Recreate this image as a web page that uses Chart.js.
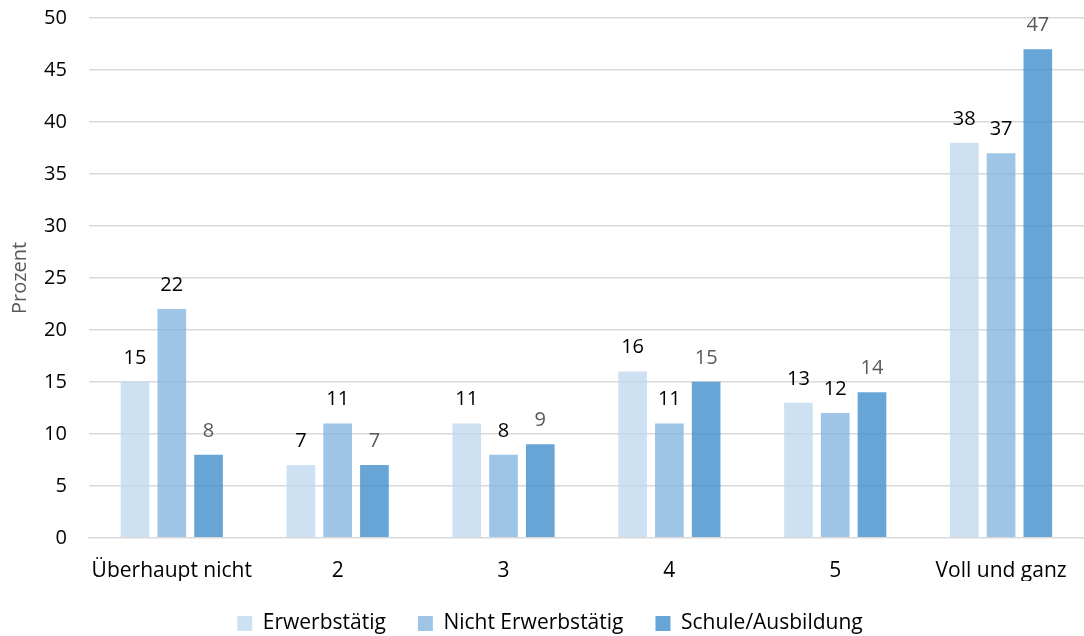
<!DOCTYPE html>
<html lang="de">
<head>
    <meta charset="UTF-8">
    <title>Prozent</title>
    <style>
        html, body { margin: 0; padding: 0; background: #fff; }
        #wrap { width: 1084px; height: 636px; overflow: hidden; }
    </style>
    <script src="https://cdn.jsdelivr.net/npm/chart.js"></script>
</head>
<body>
    <div id="wrap"><canvas id="chart"></canvas></div>
    <script>
        const categories = ['Überhaupt nicht', '2', '3', '4', '5', 'Voll und ganz'];
        const erwerbstaetig = [15, 7, 11, 16, 13, 38];
        const nichtErwerbstaetig = [22, 11, 8, 11, 12, 37];
        const schuleAusbildung = [8, 7, 9, 15, 14, 47];
        const seriesNames = ['Erwerbstätig', 'Nicht Erwerbstätig', 'Schule/Ausbildung'];

        const fontFamily = "'Open Sans', 'Noto Sans', sans-serif";

        // Werte über die Balken schreiben
        const valueLabels = {
            id: 'valueLabels',
            afterDatasetsDraw(chart) {
                const ctx = chart.ctx;
                ctx.save();
                ctx.font = '20px ' + fontFamily;
                ctx.textAlign = 'center';
                ctx.textBaseline = 'alphabetic';
                chart.data.datasets.forEach((ds, i) => {
                    const meta = chart.getDatasetMeta(i);
                    ctx.fillStyle = i === 2 ? '#595959' : '#000000';
                    meta.data.forEach((bar, j) => {
                        ctx.fillText(ds.data[j], bar.x, bar.y - 18);
                    });
                });
                ctx.restore();
            }
        };

        new Chart(document.getElementById('chart'), {
            type: 'bar',
            data: {
                labels: categories,
                datasets: [
                    { label: seriesNames[0], data: erwerbstaetig, backgroundColor: 'rgba(189,215,238,0.75)' },
                    { label: seriesNames[1], data: nichtErwerbstaetig, backgroundColor: 'rgba(126,178,221,0.75)' },
                    { label: seriesNames[2], data: schuleAusbildung, backgroundColor: 'rgba(62,140,204,0.78)' }
                ]
            },
            options: {
                responsive: true,
                maintainAspectRatio: false,
                animation: false,
                datasets: {
                    bar: { categoryPercentage: 0.665, barPercentage: 0.78 }
                },
                layout: { padding: { left: 2, right: -14, top: 0, bottom: -8 } },
                scales: {
                    x: {
                        grid: { display: false },
                        border: { color: '#d9d9d9', width: 1 },
                        ticks: {
                            color: '#000', font: { family: fontFamily, size: 21 }, padding: 13,
                            maxRotation: 0, minRotation: 0, autoSkip: false
                        },
                        afterFit(scale) { scale.height -= 16; }
                    },
                    y: {
                        min: 0,
                        max: 50,
                        ticks: { stepSize: 5, color: '#000', font: { family: fontFamily, size: 20 }, padding: 6 },
                        grid: { color: '#d9d9d9', lineWidth: 1.5, drawTicks: true, tickLength: 16, tickColor: 'rgba(0,0,0,0)' },
                        border: { display: false },
                        title: {
                            display: true,
                            text: 'Prozent',
                            color: '#595959',
                            font: { family: fontFamily, size: 20 },
                            padding: 6
                        }
                    }
                },
                plugins: {
                    legend: {
                        position: 'bottom',
                        labels: {
                            color: '#000',
                            font: { family: fontFamily, size: 21 },
                            boxWidth: 15,
                            boxHeight: 15,
                            padding: 32
                        }
                    },
                    tooltip: { enabled: false }
                }
            },
            plugins: [valueLabels]
        });
    </script>
</body>
</html>
